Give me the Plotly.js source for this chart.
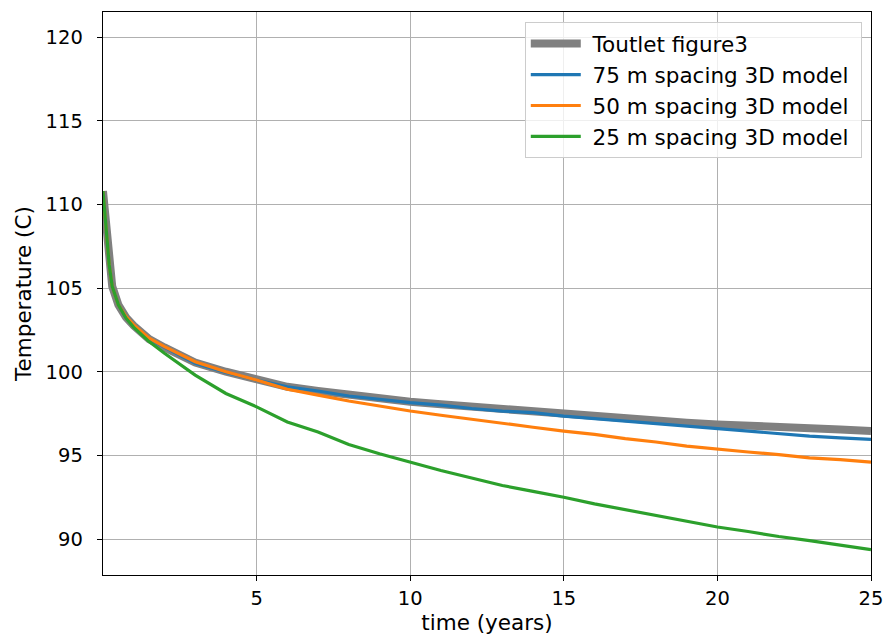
<!DOCTYPE html>
<html>
<head>
<meta charset="utf-8">
<script src="https://cdn.plot.ly/plotly-3.0.1.min.js"></script>
<style>html,body{margin:0;padding:0;background:#fff;}#chart{width:886px;height:640px;}</style>
</head>
<body>
<div id="chart"></div>
<script>
// time in years
const timeYears = [0, 0.1, 0.2, 0.3, 0.5, 0.75, 1, 1.5, 2, 3, 4, 5, 6, 7, 8, 9, 10, 11, 12, 13, 14, 15, 16, 17, 18, 19, 20, 21, 22, 23, 24, 25];
const toutletFigure3 = [110.8, 108.7, 106.4, 105.1, 104.0, 103.25, 102.75, 101.95, 101.45, 100.55, 100.0, 99.55, 99.1, 98.85, 98.6, 98.4, 98.2, 98.05, 97.9, 97.75, 97.65, 97.45, 97.3, 97.15, 97.05, 96.95, 96.85, 96.8, 96.75, 96.65, 96.55, 96.45];
const spacing75 = [110.8, 108.7, 106.4, 105.1, 104.0, 103.25, 102.75, 101.95, 101.45, 100.5, 99.95, 99.5, 99.1, 98.85, 98.55, 98.35, 98.15, 98.0, 97.8, 97.65, 97.55, 97.35, 97.2, 97.05, 96.9, 96.75, 96.6, 96.45, 96.3, 96.15, 96.05, 95.96];
const spacing50 = [110.8, 108.7, 106.4, 105.1, 104.0, 103.3, 102.8, 102.0, 101.5, 100.6, 100.0, 99.5, 98.95, 98.6, 98.25, 97.95, 97.65, 97.4, 97.15, 96.9, 96.68, 96.45, 96.25, 96.0, 95.8, 95.55, 95.36, 95.2, 95.05, 94.85, 94.75, 94.6];
const spacing25 = [110.8, 108.7, 106.4, 105.1, 104.0, 103.2, 102.65, 101.8, 101.1, 99.8, 98.7, 97.9, 97.0, 96.4, 95.65, 95.1, 94.6, 94.1, 93.65, 93.2, 92.85, 92.5, 92.1, 91.75, 91.4, 91.05, 90.72, 90.45, 90.15, 89.9, 89.65, 89.36];
const seriesNames = ["Toutlet figure3", "75 m spacing 3D model", "50 m spacing 3D model", "25 m spacing 3D model"];
const xTicks = [5, 10, 15, 20, 25];
const yTicks = [90, 95, 100, 105, 110, 115, 120];

const series = [toutletFigure3, spacing75, spacing50, spacing25];
const colors = ["#808080", "#1f77b4", "#ff7f0e", "#2ca02c"];
const widths = [8, 3.2, 3.2, 3.2];

const traces = series.map((s, i) => ({
  x: timeYears, y: s, name: "\u00a0" + seriesNames[i] + "\u00a0", type: "scatter", mode: "lines",
  line: {color: colors[i], width: widths[i]}
}));

const fam = "DejaVu Sans, sans-serif";
const tickFont = {family: fam, size: 19.5, color: "#000"};
const labelFont = {family: fam, size: 21.5, color: "#000"};
const layout = {
  width: 886, height: 640,
  margin: {l: 103, r: 15, t: 12, b: 65},
  paper_bgcolor: "#fff", plot_bgcolor: "#fff",
  font: tickFont,
  showlegend: true,
  legend: {x: 0.988, y: 0.982, xanchor: "right", yanchor: "top",
    bgcolor: "rgba(255,255,255,0.8)", bordercolor: "#cccccc", borderwidth: 1,
    font: labelFont, itemwidth: 50},
  xaxis: {range: [0, 25], tickvals: xTicks, ticktext: xTicks.map(String),
    tickfont: tickFont,
    showgrid: true, gridcolor: "#b0b0b0", gridwidth: 1,
    showline: true, linecolor: "#000", linewidth: 1.3, mirror: true,
    ticks: "outside", ticklen: 5, tickcolor: "#000", zeroline: false,
    title: {text: "time (years)", font: labelFont, standoff: 6}},
  yaxis: {range: [87.85, 121.5], tickvals: yTicks, ticktext: yTicks.map(String),
    tickfont: tickFont, ticklabelstandoff: 10,
    showgrid: true, gridcolor: "#b0b0b0", gridwidth: 1,
    showline: true, linecolor: "#000", linewidth: 1.3, mirror: true,
    ticks: "outside", ticklen: 5, tickcolor: "#000", zeroline: false,
    title: {text: "Temperature (C)", font: labelFont, standoff: 8}}
};
Plotly.newPlot("chart", traces, layout, {displayModeBar: false, staticPlot: true});
</script>
</body>
</html>
